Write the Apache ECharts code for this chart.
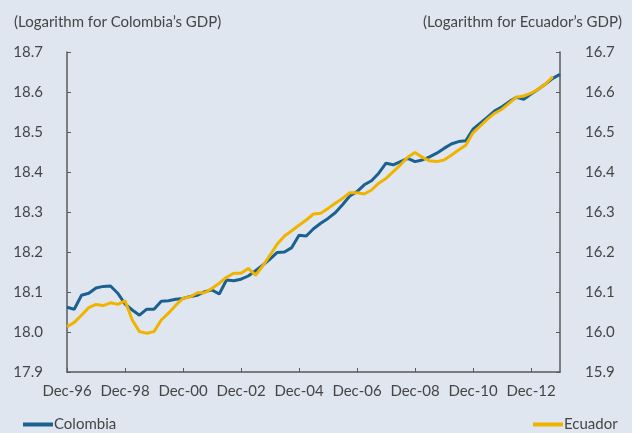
<!DOCTYPE html>
<html>
<head>
<meta charset="utf-8">
<script src="https://cdn.jsdelivr.net/npm/echarts@6/dist/echarts.min.js"></script>
<style>
  html, body { margin: 0; padding: 0; background: #dfe6f0; }
  #chart { width: 632px; height: 433px; }
</style>
</head>
<body>
<div id="chart"></div>
<script>
// quarterly, Dec-96 .. Dec-13
var months = ['Mar', 'Jun', 'Sep', 'Dec']
var quarters = ['Dec-96']
for (var y = 97; y <= 113; y++) {
  for (var m = 0; m < 4; m++) {
    quarters.push(months[m] + '-' + String(y % 100).padStart(2, '0'))
  }
}

// log GDP Colombia (left axis)
var colombia = [
  18.062, 18.057, 18.092, 18.097, 18.110, 18.114, 18.115, 18.097, 18.070, 18.055,
  18.042, 18.057, 18.057, 18.077, 18.078, 18.082, 18.084, 18.089, 18.092, 18.101,
  18.105, 18.095, 18.130, 18.128, 18.132, 18.140, 18.153, 18.167, 18.182, 18.199,
  18.200, 18.211, 18.242, 18.240, 18.258, 18.272, 18.284, 18.298, 18.318, 18.340,
  18.351, 18.368, 18.378, 18.397, 18.422, 18.418, 18.426, 18.434, 18.426, 18.430,
  18.438, 18.447, 18.459, 18.470, 18.476, 18.478, 18.507, 18.522, 18.537, 18.553,
  18.563, 18.576, 18.587, 18.582, 18.595, 18.607, 18.620, 18.634, 18.644
]

// log GDP Ecuador (right axis)
var ecuador = [
  16.013, 16.024, 16.042, 16.061, 16.069, 16.066, 16.073, 16.069, 16.078, 16.030,
  16.001, 15.997, 16.001, 16.030, 16.047, 16.067, 16.084, 16.088, 16.098, 16.098,
  16.109, 16.122, 16.137, 16.147, 16.147, 16.159, 16.142, 16.165, 16.192, 16.220,
  16.240, 16.253, 16.267, 16.280, 16.295, 16.297, 16.309, 16.322, 16.334, 16.348,
  16.348, 16.345, 16.355, 16.372, 16.384, 16.401, 16.418, 16.437, 16.449, 16.437,
  16.428, 16.426, 16.430, 16.442, 16.455, 16.467, 16.498, 16.515, 16.532, 16.547,
  16.557, 16.572, 16.587, 16.590, 16.597, 16.607, 16.620, 16.638, null
]

var txt = '#454545'
var axisColor = '#5a5a5a'

var chart = echarts.init(document.getElementById('chart'))
chart.setOption({
  backgroundColor: '#dfe6f0',
  textStyle: { fontFamily: 'Lato', color: txt },
  title: [
    { text: '(Logarithm for Colombia\u2019s GDP)', left: 9, top: 10,
      textStyle: { fontSize: 15, fontWeight: 'normal', color: txt, fontFamily: 'Lato' } },
    { text: '(Logarithm for Ecuador\u2019s GDP)', right: 5, top: 10,
      textStyle: { fontSize: 15, fontWeight: 'normal', color: txt, fontFamily: 'Lato' } }
  ],
  legend: [
    { data: ['Colombia'], left: 18, top: 412, icon: 'rect', itemWidth: 30, itemHeight: 4,
      textStyle: { fontSize: 15, color: txt, padding: [0, 0, 0, -4] } },
    { data: ['Ecuador'], left: 528, top: 412, icon: 'rect', itemWidth: 30, itemHeight: 4,
      textStyle: { fontSize: 15, color: txt, padding: [0, 0, 0, -4] } }
  ],
  grid: { left: 67, right: 72, top: 52, bottom: 61 },
  xAxis: {
    type: 'category',
    data: quarters,
    boundaryGap: false,
    axisLine: { lineStyle: { color: axisColor, width: 1.5 } },
    axisTick: { inside: true, length: 4, interval: 7, lineStyle: { color: axisColor } },
    axisLabel: { interval: 7, fontSize: 15, color: txt, margin: 12 }
  },
  yAxis: [
    {
      type: 'value', min: 17.9, max: 18.7, interval: 0.1,
      splitLine: { show: false },
      axisLine: { show: true, lineStyle: { color: axisColor, width: 1.5 } },
      axisTick: { show: true, inside: true, length: 4, lineStyle: { color: axisColor } },
      axisLabel: { fontSize: 15, color: txt, margin: 24, formatter: function (v) { return v.toFixed(1) } }
    },
    {
      type: 'value', min: 15.9, max: 16.7, interval: 0.1, position: 'right',
      splitLine: { show: false },
      axisLine: { show: true, lineStyle: { color: axisColor, width: 1.5 } },
      axisTick: { show: true, inside: true, length: 4, lineStyle: { color: axisColor } },
      axisLabel: { fontSize: 15, color: txt, margin: 25, formatter: function (v) { return v.toFixed(1) } }
    }
  ],
  series: [
    { name: 'Colombia', type: 'line', data: colombia, yAxisIndex: 0, showSymbol: false,
      lineStyle: { width: 3, color: '#1b6190' }, itemStyle: { color: '#1b6190' } },
    { name: 'Ecuador', type: 'line', data: ecuador, yAxisIndex: 1, showSymbol: false,
      lineStyle: { width: 3, color: '#f0b400' }, itemStyle: { color: '#f0b400' } }
  ]
})
</script>
</body>
</html>
